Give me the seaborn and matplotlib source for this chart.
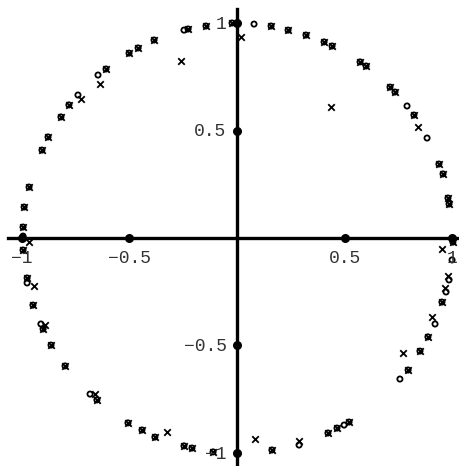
import matplotlib
matplotlib.use("Agg")
import matplotlib.pyplot as plt
import seaborn as sns
import pandas as pd

# Points shared by both series (circle and cross coincide)
shared_x = [-0.993, -0.993, -0.988, -0.965, -0.905, -0.877, -0.817, -0.780, -0.608, -0.501,
            -0.459, -0.385, -0.227, -0.144, -0.023, 0.158, 0.237, 0.320, 0.404, 0.441,
            0.571, 0.599, 0.710, 0.733, 0.821, 0.937, 0.956, 0.979, 0.984, 1.002,
            0.951, 0.886, 0.849, 0.794, 0.520, 0.464, 0.422, 0.162, -0.111, -0.209,
            -0.246, -0.381, -0.441, -0.506, -0.650, -0.798, -0.863, -0.900, -0.947, -0.974]
shared_y = [-0.056, 0.051, 0.144, 0.237, 0.409, 0.470, 0.563, 0.619, 0.786, 0.860,
            0.884, 0.921, 0.972, 0.986, 1.000, 0.986, 0.967, 0.944, 0.912, 0.893,
            0.819, 0.800, 0.702, 0.679, 0.572, 0.344, 0.298, 0.186, 0.158, -0.019,
            -0.298, -0.460, -0.526, -0.614, -0.856, -0.884, -0.907, -0.986, -0.995, -0.977,
            -0.967, -0.926, -0.893, -0.860, -0.753, -0.595, -0.498, -0.423, -0.312, -0.186]

# Circle-only points
circle_x = [-0.993, -0.645, -0.738, -0.246, 0.079, 0.789, 0.882, 0.998, 0.984, 0.970,
            0.919, 0.756, 0.497, 0.288, -0.682, -0.910, -0.974]
circle_y = [0.009, 0.758, 0.665, 0.967, 0.995, 0.614, 0.465, -0.102, -0.195, -0.251,
            -0.400, -0.656, -0.870, -0.963, -0.726, -0.400, -0.209]

# Cross-only points
cross_x = [-0.965, -0.636, -0.724, -0.260, 0.019, 0.436, 0.840, 0.951, 0.979, 0.965,
           0.905, 0.770, 0.288, 0.084, -0.325, -0.659, -0.891, -0.942]
cross_y = [-0.019, 0.716, 0.647, 0.823, 0.935, 0.609, 0.516, -0.051, -0.177, -0.233,
           -0.367, -0.535, -0.944, -0.935, -0.902, -0.726, -0.405, -0.223]

ticks = [-1, -0.5, 0.5, 1]
tick_labels = ["\u22121", "\u22120.5", "0.5", "1"]

sns.set_style("white")
plt.rcParams['font.family'] = ['Liberation Mono', 'DejaVu Sans Mono']

circles = pd.DataFrame({"x": shared_x + circle_x, "y": shared_y + circle_y})
crosses = pd.DataFrame({"x": shared_x + cross_x, "y": shared_y + cross_y})

fig = plt.figure(figsize=(4.59, 4.66), dpi=100)
ax = fig.add_axes([0, 0, 1, 1])

xmin, xmax = -1.0998, 1.0302
ymin, ymax = -1.0605, 1.107
ax.set_xlim(xmin, xmax)
ax.set_ylim(ymin, ymax)

for s in ["top", "right"]:
    ax.spines[s].set_visible(False)
ax.spines["left"].set_position(("data", 0))
ax.spines["bottom"].set_position(("data", 0))
ax.spines["left"].set_linewidth(2.4)
ax.spines["bottom"].set_linewidth(2.4)
ax.spines["left"].set_color("black")
ax.spines["bottom"].set_color("black")
ax.spines["bottom"].set_bounds(-1.063, xmax)
ax.spines["left"].set_bounds(ymin, 1.065)
ax.set_xticks([])
ax.set_yticks([])

sns.scatterplot(data=circles, x="x", y="y", marker="o", s=14, facecolors="none",
                edgecolor="black", linewidth=1.3, ax=ax, zorder=3)
sns.scatterplot(data=crosses, x="x", y="y", marker="x", s=22, color="black",
                linewidth=1.3, ax=ax, zorder=3)

# tick dots on axes
ax.scatter(ticks, [0] * len(ticks), s=30, color="black", zorder=4, clip_on=False)
ax.scatter([0] * len(ticks), ticks, s=30, color="black", zorder=4, clip_on=False)

for t, lab in zip(ticks, tick_labels):
    ax.annotate(lab, (t, 0), xytext=(0, -18), textcoords="offset points",
                ha="center", va="baseline", fontsize=13, color="#333333")
    ax.annotate(lab, (0, t), xytext=(-7.5, -4.3), textcoords="offset points",
                ha="right", va="baseline", fontsize=13, color="#333333")

ax.set_xlabel("")
ax.set_ylabel("")
fig.savefig("out.png", dpi=100)
